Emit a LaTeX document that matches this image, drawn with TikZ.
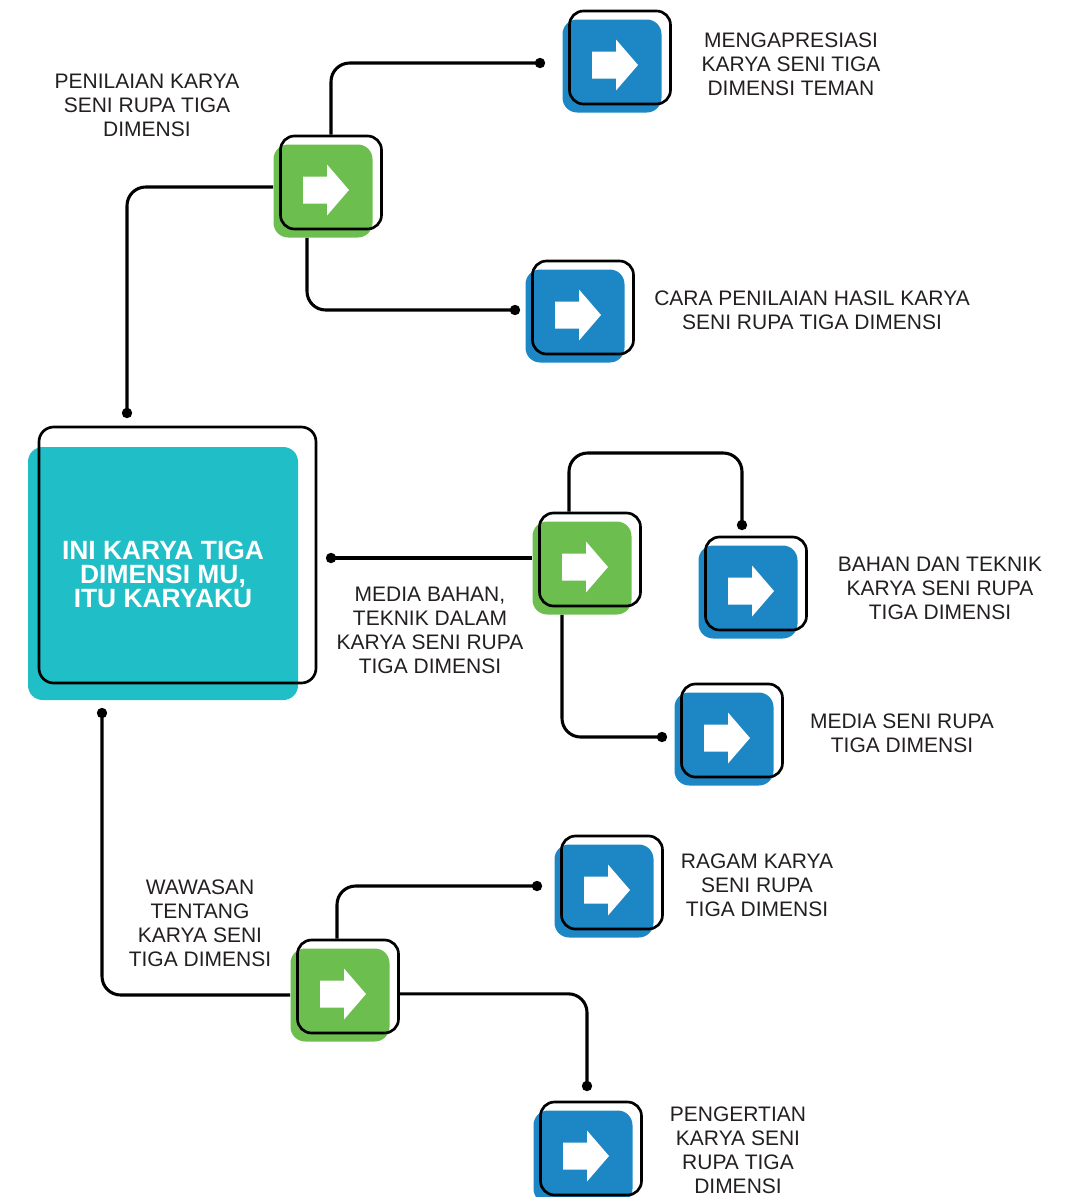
\documentclass[tikz,border=0pt]{standalone}
\usepackage{fontspec}
\setmainfont{Liberation Sans}
\usetikzlibrary{calc}
\definecolor{cgreen}{HTML}{6CBE4F}
\definecolor{cblue}{HTML}{1D87C6}
\definecolor{cteal}{HTML}{20BEC6}
\definecolor{cdark}{HTML}{231F20}
\begin{document}
\begin{tikzpicture}[x=0.75pt,y=-0.75pt,
  conn/.style={line width=2.3pt, rounded corners=14pt},
  boxfill/.style={rectangle, rounded corners=11pt, minimum width=74.25pt, minimum height=69.75pt, inner sep=0pt, draw=none},
  boxline/.style={rectangle, rounded corners=10.5pt, draw=black, line width=2pt, minimum width=75.75pt, minimum height=69.75pt, inner sep=0pt},
  lbl/.style={align=center, inner sep=0pt, text=cdark, font=\fontsize{15.75}{18}\selectfont},
  abox/.pic={
    \node[boxfill, fill=#1] (-f) at (0,0) {};
    \fill[white] (-20,12.5) -- (4,12.5) -- (4,24.5) -- (26,-1) -- (4,-26.5) -- (4,-14.5) -- (-20,-14.5) -- cycle;
    \node[boxline] (-o) at (8,-8.5) {};
  }
]
\useasboundingbox (0,0) rectangle (1071,1197);

% main box
\node[fill=cteal, rounded corners=11pt, minimum width=202.5pt, minimum height=189.75pt, inner sep=0pt] (mainf) at (163,573.5) {};
\node[draw=black, line width=2pt, rounded corners=11pt, minimum width=207.75pt, minimum height=192pt, inner sep=0pt] (maino) at (177.5,555) {};
\node[align=center, inner sep=0pt, text=white, font=\fontsize{19.8}{18}\selectfont\bfseries] (title) at (163,574) {INI KARYA TIGA\\DIMENSI MU,\\ITU KARYAKU};

% boxes
\pic (g1) at (323,191) {abox=cgreen};
\pic (b1) at (612,66) {abox=cblue};
\pic (b2) at (575,316) {abox=cblue};
\pic (g2) at (582,568) {abox=cgreen};
\pic (b3) at (748,592) {abox=cblue};
\pic (b4) at (724,739) {abox=cblue};
\pic (b5) at (604,891) {abox=cblue};
\pic (g3) at (340,995) {abox=cgreen};
\pic (b6) at (583,1157) {abox=cblue};

% dot coordinates
\coordinate (d1) at (127,413);
\coordinate (d2) at (540,63);
\coordinate (d3) at (515,310);
\coordinate (d4) at (331,558);
\coordinate (d5) at (742,525);
\coordinate (k5) at (569,453);
\coordinate (d6) at (662,737);
\coordinate (d7) at (102,713);
\coordinate (d8) at (537,886);
\coordinate (d9) at (587,1086);

% connectors
\draw[conn] (d1) |- ([yshift=3pt]g1-f.west);
\draw[conn] (g1-o.north) |- (d2);
\draw[conn] ([xshift=-12pt]g1-f.south) |- (d3);
\draw[conn] (d4) -- (d4 -| g2-f.west);
\draw[conn] (k5 |- g2-o.north) -- (k5) -| (d5);
\draw[conn] ([xshift=-15pt]g2-f.south) |- (d6);
\draw[conn] (d7) |- (g3-f.west);
\draw[conn] ([xshift=-8.25pt]g3-o.north) |- (d8);
\draw[conn] ([yshift=-5.5pt]g3-o.east) -| (d9);

\foreach \d in {d1,d2,d3,d4,d5,d6,d7,d8,d9} \fill (\d) circle[radius=3.9pt];

% labels
\node[lbl] (t1) at (147,105) {PENILAIAN KARYA\\SENI RUPA TIGA\\DIMENSI};
\node[lbl] (t2) at (791,64) {MENGAPRESIASI\\KARYA SENI TIGA\\DIMENSI TEMAN};
\node[lbl] (t3) at (812,310) {CARA PENILAIAN HASIL KARYA\\SENI RUPA TIGA DIMENSI};
\node[lbl] (t4) at (430,630) {MEDIA BAHAN,\\TEKNIK DALAM\\KARYA SENI RUPA\\TIGA DIMENSI};
\node[lbl] (t5) at (940,588) {BAHAN DAN TEKNIK\\KARYA SENI RUPA\\TIGA DIMENSI};
\node[lbl] (t6) at (902,733) {MEDIA SENI RUPA\\TIGA DIMENSI};
\node[lbl] (t7) at (757,885) {RAGAM KARYA\\SENI RUPA\\TIGA DIMENSI};
\node[lbl] (t8) at (200,923) {WAWASAN\\TENTANG\\KARYA SENI\\TIGA DIMENSI};
\node[lbl] (t9) at (738,1150) {PENGERTIAN\\KARYA SENI\\RUPA TIGA\\DIMENSI};
\end{tikzpicture}
\end{document}
